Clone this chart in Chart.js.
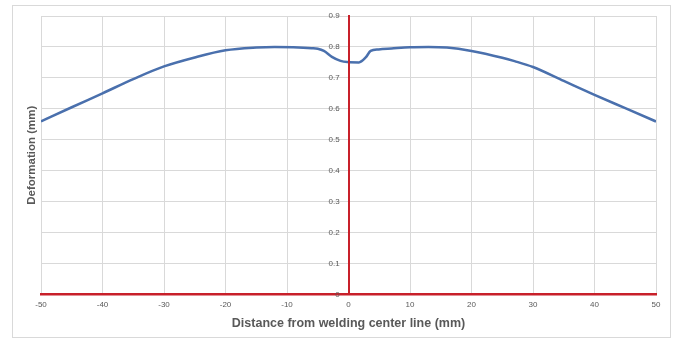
<!DOCTYPE html>
<html>
<head>
<meta charset="utf-8">
<script src="https://cdn.jsdelivr.net/npm/chart.js@4.4.0/dist/chart.umd.min.js"></script>
<style>
  html, body { margin: 0; padding: 0; background: #fff; }
  #wrap { position: relative; width: 676px; height: 340px; }
  #frame { position: absolute; left: 12px; top: 5px; width: 657px; height: 331px; border: 1px solid #d9d9d9; }
  #chart { position: absolute; left: 0; top: 0; }
</style>
</head>
<body>
<div id="wrap">
  <div id="frame"></div>
  <canvas id="chart" width="676" height="340"></canvas>
</div>
<script>
// distance from the weld centre line (mm) and measured deformation (mm)
const distance = [-50, -45, -40, -35, -30, -25, -20, -15, -12, -9, -6, -5, -4, -2.7, -1.3, -0.2,
                  1.7, 2.8, 3.6, 4.9, 7, 10, 13, 16, 20, 25, 27, 30, 35, 40, 45, 50];
const deformation = [0.559, 0.605, 0.650, 0.696, 0.737, 0.766, 0.789, 0.798, 0.800, 0.799, 0.796, 0.794, 0.787, 0.768, 0.755, 0.751,
                     0.750, 0.766, 0.787, 0.792, 0.795, 0.799, 0.800, 0.798, 0.787, 0.765, 0.754, 0.735, 0.690, 0.645, 0.602, 0.559];

const xTicks = [-50, -40, -30, -20, -10, 0, 10, 20, 30, 40, 50];
const yTicks = [0, 0.1, 0.2, 0.3, 0.4, 0.5, 0.6, 0.7, 0.8, 0.9];

const gridColor = '#d9d9d9';
const textColor = '#595959';
const axisRed = '#c8202a';
const fontFamily = "'Liberation Sans', Arial, sans-serif";

function useTicks(values) {
    return scale => { scale.ticks = values.map(v => ({ value: v })); };
}

const ctx = document.getElementById('chart');

new Chart(ctx, {
    type: 'line',
    data: {
        datasets: [{
            data: distance.map((d, i) => ({ x: d, y: deformation[i] })),
            borderColor: '#4a70ad',
            borderWidth: 2.5,
            pointRadius: 0,
            cubicInterpolationMode: 'monotone',
            fill: false
        }]
    },
    options: {
        responsive: false,
        animation: false,
        layout: {
            padding: { left: 10, right: 20, top: 16, bottom: 4 }
        },
        plugins: {
            legend: { display: false },
            tooltip: { enabled: false }
        },
        scales: {
            x: {
                type: 'linear',
                position: 'bottom',
                min: -50,
                max: 50,
                afterBuildTicks: useTicks(xTicks),
                grid: { color: gridColor, drawTicks: false },
                border: { color: axisRed, width: 2.5 },
                ticks: {
                    padding: 6,
                    color: textColor,
                    font: { family: fontFamily, size: 8 }
                },
                title: {
                    display: true,
                    text: 'Distance from welding center line (mm)',
                    color: textColor,
                    padding: { top: 0, bottom: 5 },
                    font: { family: fontFamily, size: 12.5, weight: 'bold' }
                }
            },
            // value axis sitting on x = 0, red line drawn above the curve
            y: {
                type: 'linear',
                position: { x: 0 },
                min: 0,
                max: 0.9,
                afterBuildTicks: useTicks(yTicks),
                grid: { color: gridColor, drawTicks: false },
                border: { color: axisRed, width: 2, z: 1 },
                ticks: {
                    color: textColor,
                    font: { family: fontFamily, size: 8 },
                    // labels are right-aligned on the axis line, keep a gap
                    callback: v => v + '    '
                }
            },
            // carries only the title on the left edge
            yTitle: {
                type: 'linear',
                position: 'left',
                min: 0,
                max: 0.9,
                grid: { display: false, drawTicks: false },
                border: { display: false },
                ticks: { display: false },
                title: {
                    display: true,
                    text: 'Deformation (mm)',
                    color: textColor,
                    padding: { top: 15.1, bottom: 2.1 },
                    font: { family: fontFamily, size: 11.5, weight: 'bold' }
                }
            }
        }
    }
});
</script>
</body>
</html>
